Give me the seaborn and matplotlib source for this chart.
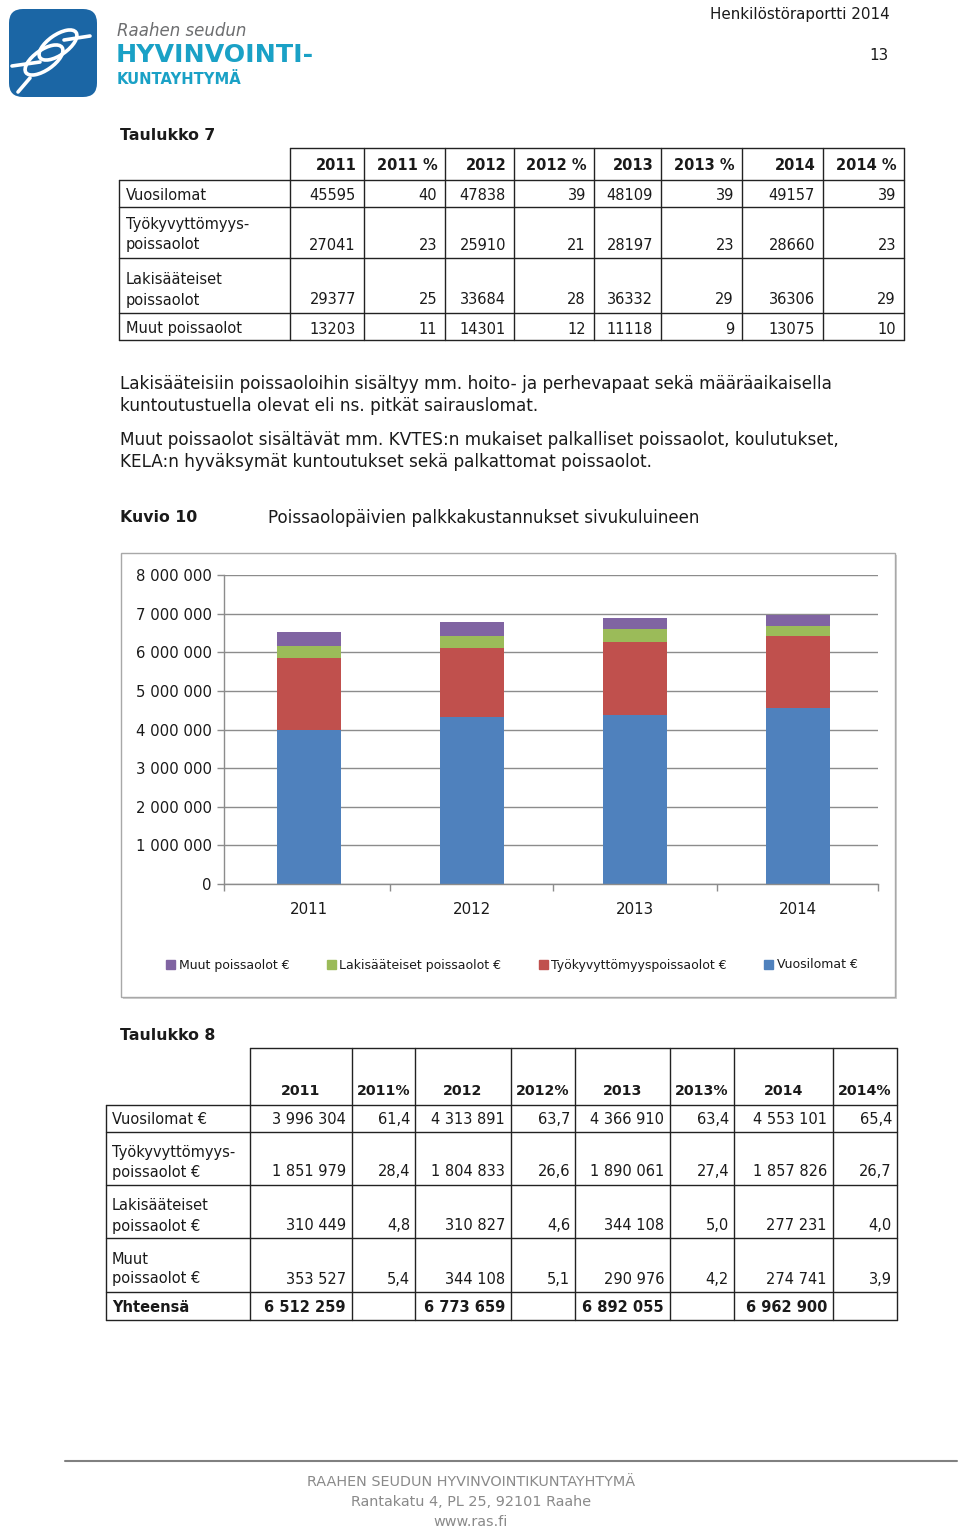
import matplotlib
matplotlib.use("Agg")
import matplotlib.pyplot as plt
import seaborn as sns
from matplotlib.patches import Rectangle, FancyBboxPatch, Ellipse, Patch
from matplotlib.ticker import FixedLocator, FuncFormatter

sns.set_theme(style="white")
plt.rcParams['font.family'] = ['DejaVu Sans']

# ---------------- data ----------------
years = ["2011", "2012", "2013", "2014"]

# Kuvio 10 / Taulukko 8 (euros)
vuosilomat_eur = [3996304, 4313891, 4366910, 4553101]
tyokyvyttomyys_eur = [1851979, 1804833, 1890061, 1857826]
lakisaateiset_eur = [310449, 310827, 344108, 277231]
muut_eur = [353527, 344108, 290976, 274741]
yhteensa_eur = [6512259, 6773659, 6892055, 6962900]
vuosilomat_eur_pct = [61.4, 63.7, 63.4, 65.4]
tyokyvyttomyys_eur_pct = [28.4, 26.6, 27.4, 26.7]
lakisaateiset_eur_pct = [4.8, 4.6, 5.0, 4.0]
muut_eur_pct = [5.4, 5.1, 4.2, 3.9]

# Taulukko 7 (days)
vuosilomat_pv = [45595, 47838, 48109, 49157]
vuosilomat_pv_pct = [40, 39, 39, 39]
tyokyvyttomyys_pv = [27041, 25910, 28197, 28660]
tyokyvyttomyys_pv_pct = [23, 21, 23, 23]
lakisaateiset_pv = [29377, 33684, 36332, 36306]
lakisaateiset_pv_pct = [25, 28, 29, 29]
muut_pv = [13203, 14301, 11118, 13075]
muut_pv_pct = [11, 12, 9, 10]

t7_header = ["2011", "2011 %", "2012", "2012 %", "2013", "2013 %", "2014", "2014 %"]
t7_labels = [["Vuosilomat"], ["Työkyvyttömyys-", "poissaolot"],
             ["Lakisääteiset", "poissaolot"], ["Muut poissaolot"]]
t8_header = ["2011", "2011%", "2012", "2012%", "2013", "2013%", "2014", "2014%"]
t8_labels = [["Vuosilomat €"], ["Työkyvyttömyys-", "poissaolot €"],
             ["Lakisääteiset", "poissaolot €"], ["Muut", "poissaolot €"], ["Yhteensä"]]

series_labels = ["Muut poissaolot €", "Lakisääteiset poissaolot €",
                 "Työkyvyttömyyspoissaolot €", "Vuosilomat €"]
yticks = [0, 1000000, 2000000, 3000000, 4000000, 5000000, 6000000, 7000000, 8000000]

C_BLUE, C_RED, C_GREEN, C_PURPLE = "#4F81BD", "#C0504D", "#9BBB59", "#8064A2"


def fmt_int(v):
    return f"{v:,}".replace(",", " ")


def fmt_pct(v):
    return f"{v:.1f}".replace(".", ",")


# ---------------- page ----------------
fig = plt.figure(figsize=(9.6, 15.31), dpi=100)
page = fig.add_axes([0, 0, 1, 1])
page.set_xlim(0, 960)
page.set_ylim(1531, 0)
page.axis("off")

TXT = "#1a1a1a"

# logo
page.add_patch(FancyBboxPatch((9, 9), 88, 88, boxstyle="round,pad=0,rounding_size=14",
                              fc="#1b66a5", ec="none"))
page.add_patch(Ellipse((44, 60), 44, 20, angle=-35, fill=False, ec="white", lw=2.6))
page.add_patch(Ellipse((58, 45), 44, 20, angle=-35, fill=False, ec="white", lw=2.6))
page.plot([12, 40], [66, 62], color="white", lw=2.6, solid_capstyle="round")
page.plot([64, 90], [40, 36], color="white", lw=2.6, solid_capstyle="round")
page.plot([30, 18], [78, 92], color="white", lw=2.6, solid_capstyle="round")
page.text(117, 31, "Raahen seudun", fontsize=12, style="italic", color="#6d6e70", va="center")
page.text(116, 55, "HYVINVOINTI-", fontsize=18.2, weight="bold", color="#1aa1c6", va="center")
page.text(117, 79, "KUNTAYHTYMÄ", fontsize=10.6, weight="bold", color="#1aa1c6", va="center")

# header right
page.text(890, 15, "Henkilöstöraportti 2014", fontsize=10.9, ha="right", va="center", color=TXT)
page.text(889, 55, "13", fontsize=10.9, ha="right", va="center", color=TXT)

# ---------------- Taulukko 7 ----------------
page.text(120, 135, "Taulukko 7", fontsize=11.3, weight="bold", va="center", color=TXT)
t7_x = [119, 290, 364, 445, 514, 594, 661, 742, 823, 904]
t7_y = [148, 180, 207, 258, 313, 340]
LC = "#222222"
page.plot([t7_x[1], t7_x[-1]], [t7_y[0], t7_y[0]], color=LC, lw=1)
for yy in t7_y[1:]:
    page.plot([t7_x[0], t7_x[-1]], [yy, yy], color=LC, lw=1)
page.plot([t7_x[0], t7_x[0]], [t7_y[1], t7_y[-1]], color=LC, lw=1)
for xx in t7_x[1:]:
    page.plot([xx, xx], [t7_y[0], t7_y[-1]], color=LC, lw=1)

FS_T = 10.5
for i, h in enumerate(t7_header):
    page.text(t7_x[i + 2] - 7, 165, h, fontsize=FS_T, weight="bold", ha="right", va="center", color=TXT)

t7_rows = [
    (vuosilomat_pv, vuosilomat_pv_pct),
    (tyokyvyttomyys_pv, tyokyvyttomyys_pv_pct),
    (lakisaateiset_pv, lakisaateiset_pv_pct),
    (muut_pv, muut_pv_pct),
]
t7_val_y = [195, 245, 300, 329]
for r, (vals, pcts) in enumerate(t7_rows):
    yv = t7_val_y[r]
    lab = t7_labels[r]
    for k, line in enumerate(lab):
        page.text(126, yv - 20 * (len(lab) - 1 - k), line, fontsize=FS_T, ha="left", va="center", color=TXT)
    for j in range(4):
        page.text(t7_x[2 * j + 2] - 8, yv, str(vals[j]), fontsize=FS_T, ha="right", va="center", color=TXT)
        page.text(t7_x[2 * j + 3] - 8, yv, str(pcts[j]), fontsize=FS_T, ha="right", va="center", color=TXT)

# paragraphs
FS_B = 12.2
para = [
    (384, "Lakisääteisiin poissaoloihin sisältyy mm. hoito- ja perhevapaat sekä määräaikaisella"),
    (406, "kuntoutustuella olevat eli ns. pitkät sairauslomat."),
    (440, "Muut poissaolot sisältävät mm. KVTES:n mukaiset palkalliset poissaolot, koulutukset,"),
    (462, "KELA:n hyväksymät kuntoutukset sekä palkattomat poissaolot."),
]
for yy, s in para:
    page.text(120, yy, s, fontsize=FS_B, va="center", color=TXT)

page.text(120, 518, "Kuvio 10", fontsize=11.3, weight="bold", va="center", color=TXT)
page.text(268, 518, "Poissaolopäivien palkkakustannukset sivukuluineen", fontsize=12.1,
          va="center", color=TXT)

# chart box
page.add_patch(Rectangle((123, 555), 774, 444, fc="#d0d0d0", ec="none"))
page.add_patch(Rectangle((121, 553), 774, 444, fc="white", ec="#a8a8a8", lw=1))

# ---------------- chart ----------------
ax = fig.add_axes([224 / 960, 1 - 884 / 1531, 654 / 960, 309 / 1531])
ax.set_facecolor("none")
lvl1 = list(vuosilomat_eur)
lvl2 = [a + b for a, b in zip(lvl1, tyokyvyttomyys_eur)]
lvl3 = [a + b for a, b in zip(lvl2, lakisaateiset_eur)]
lvl4 = [a + b for a, b in zip(lvl3, muut_eur)]
for vals, col in [(lvl4, C_PURPLE), (lvl3, C_GREEN), (lvl2, C_RED), (lvl1, C_BLUE)]:
    sns.barplot(x=years, y=vals, order=years, color=col, saturation=1, width=0.39,
                errorbar=None, linewidth=0, ax=ax)

GC = "#8c8c8c"
ax.set_xlim(-0.52, 3.49)
ax.set_ylim(0, 8000000)
ax.yaxis.set_major_locator(FixedLocator(yticks))
ax.yaxis.set_major_formatter(FuncFormatter(lambda v, p: fmt_int(int(round(v)))))
ax.yaxis.grid(True, color=GC, lw=1)
ax.xaxis.grid(False)
ax.set_axisbelow(True)
for s in ["top", "right"]:
    ax.spines[s].set_visible(False)
for s in ["left", "bottom"]:
    ax.spines[s].set_color(GC)
    ax.spines[s].set_linewidth(1)
ax.set_xlabel("")
ax.set_ylabel("")
ax.tick_params(axis="y", left=True, length=5, width=1, color=GC, pad=4, labelsize=10.7, labelcolor=TXT)
ax.set_xticks([-0.52, 0.5, 1.5, 2.5, 3.49], minor=True)
ax.tick_params(axis="x", which="major", length=0, pad=13, labelsize=10.8, labelcolor=TXT)
ax.tick_params(axis="x", which="minor", bottom=True, length=5, width=1, color=GC)

handles = [Patch(color=c, label=l) for c, l in zip([C_PURPLE, C_GREEN, C_RED, C_BLUE], series_labels)]
fig.legend(handles=handles, loc="center", bbox_to_anchor=(512 / 960, 1 - 965 / 1531), ncol=4,
           frameon=False, fontsize=9.0, handlelength=0.7, handleheight=0.7,
           handletextpad=0.3, columnspacing=3.0, labelcolor=TXT)

# ---------------- Taulukko 8 ----------------
page.text(120, 1035, "Taulukko 8", fontsize=11.3, weight="bold", va="center", color=TXT)
t8_x = [106, 250, 352, 415, 511, 575, 670, 734, 833, 897]
t8_y = [1048, 1105, 1132, 1185, 1238, 1292, 1320]
page.plot([t8_x[1], t8_x[-1]], [t8_y[0], t8_y[0]], color=LC, lw=1)
for yy in t8_y[1:]:
    page.plot([t8_x[0], t8_x[-1]], [yy, yy], color=LC, lw=1)
page.plot([t8_x[0], t8_x[0]], [t8_y[1], t8_y[-1]], color=LC, lw=1)
for xx in t8_x[1:]:
    page.plot([xx, xx], [t8_y[0], t8_y[-1]], color=LC, lw=1)

for i, h in enumerate(t8_header):
    cx = (t8_x[i + 1] + t8_x[i + 2]) / 2
    page.text(cx, 1091, h, fontsize=10.2, weight="bold", ha="center", va="center", color=TXT)

t8_rows = [
    (vuosilomat_eur, vuosilomat_eur_pct),
    (tyokyvyttomyys_eur, tyokyvyttomyys_eur_pct),
    (lakisaateiset_eur, lakisaateiset_eur_pct),
    (muut_eur, muut_eur_pct),
    (yhteensa_eur, None),
]
t8_val_y = [1119, 1172, 1226, 1279, 1308]
for r, (vals, pcts) in enumerate(t8_rows):
    yv = t8_val_y[r]
    lab = t8_labels[r]
    wt = "bold" if pcts is None else "normal"
    for k, line in enumerate(lab):
        page.text(112, yv - 20 * (len(lab) - 1 - k), line, fontsize=FS_T, weight=wt,
                  ha="left", va="center", color=TXT)
    for j in range(4):
        page.text(t8_x[2 * j + 2] - 6, yv, fmt_int(vals[j]), fontsize=FS_T, weight=wt,
                  ha="right", va="center", color=TXT)
        if pcts is not None:
            page.text(t8_x[2 * j + 3] - 5, yv, fmt_pct(pcts[j]), fontsize=FS_T,
                      ha="right", va="center", color=TXT)

# ---------------- footer ----------------
page.plot([65, 957], [1461, 1461], color="#808080", lw=1.5)
FC = "#8a8a8a"
page.text(471, 1482, "RAAHEN SEUDUN HYVINVOINTIKUNTAYHTYMÄ", fontsize=10.4, ha="center", va="center", color=FC)
page.text(471, 1502, "Rantakatu 4, PL 25, 92101 Raahe", fontsize=10.4, ha="center", va="center", color=FC)
page.text(471, 1522, "www.ras.fi", fontsize=10.4, ha="center", va="center", color=FC)

fig.savefig("out.png", dpi=100)
